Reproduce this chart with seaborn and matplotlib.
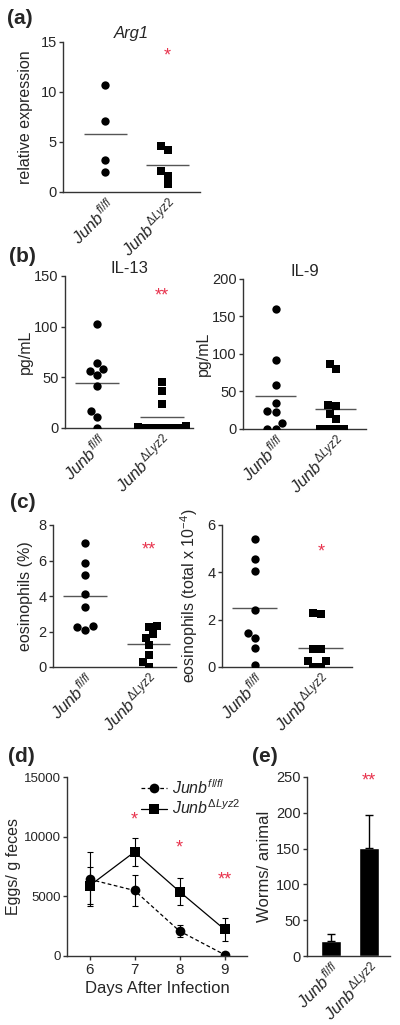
import numpy as np
import pandas as pd
import matplotlib
matplotlib.use("Agg")
import matplotlib.pyplot as plt
import seaborn as sns

sns.set_theme(style="ticks")
plt.rcParams["font.family"] = ["Liberation Sans", "DejaVu Sans"]
plt.rcParams["mathtext.fontset"] = "custom"
plt.rcParams["mathtext.rm"] = "Liberation Sans"
plt.rcParams["mathtext.it"] = "Liberation Sans:italic"
plt.rcParams["mathtext.bf"] = "Liberation Sans:bold"

# ---------------- data ----------------
groups = ["fl/fl", "dLyz2"]
group_labels = [r"$Junb^{fl/fl}$", r"$Junb^{\Delta Lyz2}$"]

arg1_fl = [10.7, 7.1, 3.2, 2.0]
arg1_dl = [4.6, 4.2, 2.1, 1.6, 0.8]

il13_fl = [103, 64, 58, 56, 52, 41, 17, 11, 0]
il13_dl = [45, 37, 24, 2, 1, 0, 0, 0, 0, 0]

il9_fl = [160, 92, 59, 35, 24, 22, 8, 0, 0]
il9_dl = [87, 80, 32, 30, 20, 13, 0, 0, 0, 0]

eos_pct_fl = [7.0, 5.85, 5.2, 4.1, 3.4, 2.3, 2.25, 2.1]
eos_pct_dl = [2.3, 2.25, 1.87, 1.66, 1.25, 0.65, 0.3, 0.0]

eos_tot_fl = [5.4, 4.58, 4.07, 2.4, 1.43, 1.21, 0.79, 0.1]
eos_tot_dl = [2.29, 2.23, 0.76, 0.76, 0.27, 0.24, 0.0, 0.0]

days = [6, 7, 8, 9]
eggs_fl = [6430, 5490, 2090, 110]
eggs_fl_sem = [2270, 1260, 490, 100]
eggs_dl = [5880, 8720, 5400, 2230]
eggs_dl_sem = [1560, 1190, 1120, 950]

worms = [21, 150.5]
worms_sem = [9.3, 47]

RED = "#e8344e"
SPINE = "#333333"

fig = plt.figure(figsize=(4, 10.25), dpi=100)
W, H = 400.0, 1025.0


def add_ax(x0, x1, y0, y1):
    return fig.add_axes([x0 / W, 1 - y1 / H, (x1 - x0) / W, (y1 - y0) / H])


def style(ax, cat=True, ysize=10.5):
    for s in ["top", "right"]:
        ax.spines[s].set_visible(False)
    for s in ["left", "bottom"]:
        ax.spines[s].set_color(SPINE)
        ax.spines[s].set_linewidth(1.0)
    ax.tick_params(axis="y", length=3, width=1, color=SPINE, labelsize=ysize, pad=1.5)
    if cat:
        ax.tick_params(axis="x", length=0, labelsize=12, pad=2)
    else:
        ax.tick_params(axis="x", length=3, width=1, color=SPINE, labelsize=11, pad=2)


def scatter_panel(ax, fl, dl, ylim, yticks, ylabel, xlim, label_x):
    df_fl = pd.DataFrame({"g": groups[0], "v": fl})
    df_dl = pd.DataFrame({"g": groups[1], "v": dl})
    sns.swarmplot(data=df_fl, x="g", y="v", order=groups, marker="o",
                  color="black", size=6.0, ax=ax, linewidth=0)
    sns.swarmplot(data=df_dl, x="g", y="v", order=groups, marker="s",
                  color="black", size=5.6, ax=ax, linewidth=0)
    for i, vals in enumerate([fl, dl]):
        ax.hlines(np.mean(vals), i - 0.34, i + 0.34, color="#555555", lw=1.0, zorder=1)
    ax.set_ylim(*ylim)
    ax.set_yticks(yticks)
    ax.set_xlim(*xlim)
    ax.set_xticks([0, 1])
    ax.set_xticklabels(group_labels, rotation=45, ha="right", rotation_mode="anchor")
    ax.set_xlabel("")
    ax.set_ylabel(ylabel, fontsize=11.5)
    ax.yaxis.set_label_coords(label_x, 0.5)
    style(ax)


def stars(ax, x, y, s):
    ax.text(x, y, s, color=RED, ha="center", va="center", fontsize=13)


# (a) Arg1
ax_a = add_ax(63, 200, 42, 192)
scatter_panel(ax_a, arg1_fl, arg1_dl, (0, 15), [0, 5, 10, 15],
              "relative expression", (-0.68, 1.52), -0.22)
ax_a.set_title("Arg1", fontstyle="italic", fontsize=12, pad=3)
stars(ax_a, 1, 13.6, "*")

# (b) IL-13
ax_b1 = add_ax(65, 193, 276, 428)
scatter_panel(ax_b1, il13_fl, il13_dl, (0, 150), [0, 50, 100, 150],
              "pg/mL", (-0.5, 1.48), -0.25)
ax_b1.set_title("IL-13", fontsize=12, pad=-1)
stars(ax_b1, 1, 130, "**")

# (b) IL-9
ax_b2 = add_ax(243, 366, 279, 429)
scatter_panel(ax_b2, il9_fl, il9_dl, (0, 200), [0, 50, 100, 150, 200],
              "pg/mL", (-0.54, 1.5), -0.26)
ax_b2.set_title("IL-9", fontsize=12, pad=1)

# (c) eosinophils %
ax_c1 = add_ax(53, 176, 525, 667)
scatter_panel(ax_c1, eos_pct_fl, eos_pct_dl, (0, 8), [0, 2, 4, 6, 8],
              "eosinophils (%)", (-0.5, 1.43), -0.165)
stars(ax_c1, 1, 6.6, "**")

# (c) eosinophils total
ax_c2 = add_ax(222, 352, 525, 667)
scatter_panel(ax_c2, eos_tot_fl, eos_tot_dl, (0, 6), [0, 2, 4, 6],
              r"eosinophils (total x 10$^{-4}$)", (-0.49, 1.47), -0.17)
stars(ax_c2, 1, 4.85, "*")

# (d) eggs
ax_d = add_ax(67, 247, 777, 956)
sns.lineplot(x=days, y=eggs_fl, ax=ax_d, color="black", marker="o",
             markersize=7, markeredgewidth=0, lw=0.9, dashes=(3, 2),
             label=group_labels[0])
sns.lineplot(x=days, y=eggs_dl, ax=ax_d, color="black", marker="s",
             markersize=6.5, markeredgewidth=0, lw=0.9,
             label=group_labels[1])
ax_d.errorbar(days, eggs_fl, yerr=eggs_fl_sem, fmt="none", ecolor="black",
              elinewidth=0.8, capsize=2.5, capthick=0.8)
ax_d.errorbar(days, eggs_dl, yerr=eggs_dl_sem, fmt="none", ecolor="black",
              elinewidth=0.8, capsize=2.5, capthick=0.8)
ax_d.set_xlim(5.5, 9.5)
ax_d.set_ylim(0, 15000)
ax_d.set_xticks(days)
ax_d.set_yticks([0, 5000, 10000, 15000])
ax_d.set_xlabel("Days After Infection", fontsize=12, labelpad=3)
ax_d.set_ylabel("Eggs/ g feces", fontsize=11.5)
ax_d.yaxis.set_label_coords(-0.255, 0.5)
style(ax_d, cat=False, ysize=9.5)
leg = ax_d.legend(loc="upper right", frameon=False, fontsize=11.5,
                  handlelength=1.6, handletextpad=0.35, labelspacing=0.12,
                  borderaxespad=0.0, bbox_to_anchor=(1.0, 1.03))
stars(ax_d, 7, 11400, "*")
stars(ax_d, 8, 9050, "*")
stars(ax_d, 9, 6350, "**")

# (e) worms
ax_e = add_ax(307, 390, 777, 956)
sns.barplot(x=groups, y=worms, order=groups, color="black", width=0.53,
            ax=ax_e, saturation=1)
ax_e.errorbar([0, 1], worms, yerr=[[0, 0], worms_sem], fmt="none",
              ecolor="black", elinewidth=1.0, capsize=3, capthick=1.0)
ax_e.set_xlim(-0.63, 1.55)
ax_e.set_ylim(0, 250)
ax_e.set_yticks([0, 50, 100, 150, 200, 250])
ax_e.set_xticks([0, 1])
ax_e.set_xticklabels(group_labels, rotation=45, ha="right", rotation_mode="anchor")
ax_e.set_ylabel("Worms/ animal", fontsize=12)
ax_e.yaxis.set_label_coords(-0.42, 0.5)
style(ax_e)
stars(ax_e, 1, 244, "**")

# panel letters
for lbl, x, y in [("(a)", 7, 18), ("(b)", 9, 256), ("(c)", 10, 503),
                  ("(d)", 8, 756), ("(e)", 252, 756)]:
    fig.text(x / W, 1 - y / H, lbl, fontsize=15, fontweight="bold",
             ha="left", va="center")

fig.savefig("out.png", dpi=100)
